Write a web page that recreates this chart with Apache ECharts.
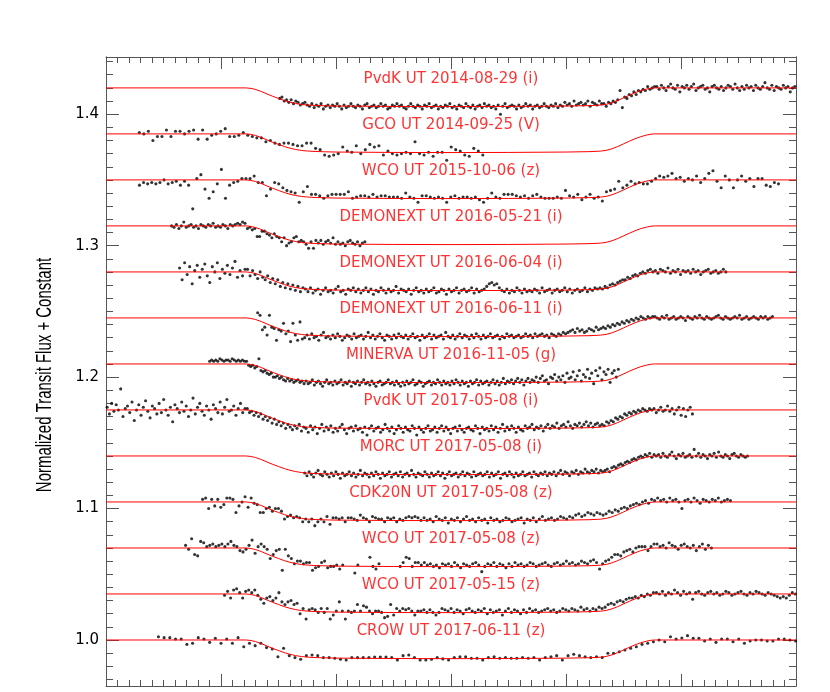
<!DOCTYPE html>
<html>
<head>
<meta charset="utf-8">
<script src="https://cdn.jsdelivr.net/npm/echarts@6.0.0/dist/echarts.min.js"></script>
<style>html,body{margin:0;padding:0;background:#fff}#chart{width:830px;height:692px}</style>
</head>
<body>
<div id="chart"></div>
<script>
// ---- data (flux in parts-per-thousand relative to 1, time in hours from mid-transit) ----
const curveLabels = [
  'PvdK UT 2014-08-29 (i)', 'GCO UT 2014-09-25 (V)', 'WCO UT 2015-10-06 (z)',
  'DEMONEXT UT 2016-05-21 (i)', 'DEMONEXT UT 2016-06-04 (i)', 'DEMONEXT UT 2016-06-11 (i)',
  'MINERVA UT 2016-11-05 (g)', 'PvdK UT 2017-05-08 (i)', 'MORC UT 2017-05-08 (i)',
  'CDK20N UT 2017-05-08 (z)', 'WCO UT 2017-05-08 (z)', 'WCO UT 2017-05-15 (z)',
  'CROW UT 2017-06-11 (z)'
];
const yAxisTitle = 'Normalized Transit Flux + Constant';
const offsets = [0.42, 0.385, 0.35, 0.315, 0.28, 0.245, 0.21, 0.175, 0.14, 0.105, 0.07, 0.035, 0];
const startHours = [-1.49, -2.71, -2.709, -2.43, -2.36, -1.681, -2.099, -2.99, -1.272, -2.16, -2.308, -1.969, -2.544];
const stepHours = [0.02, 0.0393, 0.03562, 0.02128, 0.02189, 0.02044, 0.01786, 0.01965, 0.01935, 0.02638, 0.02628, 0.02626, 0.04947];

const modelHours = [-3, -1.78, -1.74, -1.70, -1.65, -1.60, -1.55, -1.50, -1.45, -1.40, -1.35, -1.30, -1.25, -1.20, -1.10, -1.00, -0.50, 0, 0.50, 1.00, 1.20, 1.30, 1.35, 1.40, 1.45, 1.50, 1.55, 1.60, 1.65, 1.70, 1.74, 1.77, 3];
const modelFluxPpt = [0, 0, -0.4, -1.2, -2.7, -4.6, -6.4, -8.0, -9.6, -10.9, -11.9, -12.6, -13.0, -13.3, -13.6, -13.8, -14.1, -14.2, -14.1, -13.8, -13.5, -13.1, -12.5, -11.3, -9.6, -7.6, -5.6, -3.7, -2.1, -0.9, -0.2, 0, 0];

const yMajorTicks = [1.0, 1.1, 1.2, 1.3, 1.4];
const yMinorTicks = [0.97, 0.98, 0.99, 1.00, 1.01, 1.02, 1.03, 1.04, 1.05, 1.06, 1.07, 1.08, 1.09, 1.10, 1.11, 1.12, 1.13, 1.14, 1.15, 1.16, 1.17, 1.18, 1.19, 1.20, 1.21, 1.22, 1.23, 1.24, 1.25, 1.26, 1.27, 1.28, 1.29, 1.30, 1.31, 1.32, 1.33, 1.34, 1.35, 1.36, 1.37, 1.38, 1.39, 1.40, 1.41, 1.42, 1.43, 1.44];

const fluxPvdK20140829 = [
-8,-7,-10,-9,-11,-9,-12,-10,-11,-13,-12,-11,
-13,-14,-12,-15,-13,-14,-12,-16,-14,-13,
-15,-13,-14,-12,-14,-16,-13,-15,-14,-12,
-14,-15,-13,-14,-16,-13,-12,-15,-14,-13,
-15,-14,-12,-14,-13,-16,-15,-13,-14,-12,
-14,-13,-15,-16,-14,-12,-14,-15,-13,-14,
-16,-13,-14,-12,-15,-14,-13,-16,-14,-15,
-13,-14,-12,-15,-14,-16,-13,-14,-15,-12,
-14,-15,-13,-16,-14,-13,-15,-12,-14,-13,
-15,-14,-16,-13,-20,-14,-12,-15,-14,-13,
-14,-16,-13,-15,-14,-12,-14,-13,-16,-14,
-13,-15,-14,-12,-14,-15,-13,-14,-12,-15,
-13,-14,-11,-13,-12,-14,-10,-13,-12,-11,
-13,-12,-10,-14,-11,-12,-13,-10,-12,
-12,-14,-11,-12,-10,-11,-9,-2,-15,-7,-8,-5,-6,-3,-5,-2,-3,-1,-2,1,-1,0,1,
1,-1,2,0,-2,1,3,0,-1,2,
-3,1,0,2,-1,1,3,-2,0,1,
2,-1,0,-3,1,2,0,-1,1,-2,
0,2,1,-1,3,0,-2,1,-1,2,
0,1,-2,2,0,-1,1,4,0,-1,
2,-2,1,0,-1,2,0,1,-3,0,
1
];
const fluxGCO20140925 = [
1,0,2,-5,-2,-2,3,-2,2,2,0,2,3,-4,3,-4,-1,0,2,4,-2,-2,-1,1,-1,-2,
-3,-3,-6,-5,-7,-8,-7,-7,-8,-9,-9,-7,-7,-11,-12,
-16,-17,-16,-15,-10,-13,-14,-9,-15,-12,-8,-10,-9,-16,-13,-15,-16,-15,-14,-15,
-6,-15,-16,-14,-17,-14,-14,-20,-10,-12,-13,-16,-17,-11,-13,-16
];
const fluxWCO20151006 = [
-4,-2,-3,-2,-3,-2,0,-3,-2,-1,-4,-1,-4,-22,1,4,-7,-14,-9,-3,8,-14,-4,-2,-1,1,1,1,3,
-2,-2,-12,-7,-2,-3,-6,-8,-9,-10,-17,-9,-5,-11,-11,-12,-14,-12,-11,-11,
-11,-11,-9,-14,-13,-12,-12,-13,-11,-13,-12,-12,-13,-13,-13,-14,-10,-13,-14,-17,
-12,-12,-13,-14,-13,-14,-17,-13,-12,-14,-13,
-13,-14,-13,-15,-17,-14,-10,-13,-14,-11,-11,-11,-12,-13,-12,-14,-12,-11,-13,-14,
-14,-14,-13,-14,-8,-12,-13,-11,-15,-13,-11,-14,-13,-16,
-9,-8,-7,-1,-6,-4,-1,-3,-2,-3,-3,-1,1,3,2,3,5,1,2,-1,
1,0,3,-2,1,5,7,-1,-6,3,0,-6,0,3,-1,1,-5,1,1,-4,-5,-2,-3
];
const fluxDEMONEXT20160521 = [
0,-1,1,-2,0,3,-1,0,1,-1,0,-2,1,0,-1,1,0,2,-1,0,-1,1,0,-2,1,0,1,2,1,3,2,
-2,-1,-3,-2,-8,-8,-4,-4,-6,-7,-9,-6,-8,-9,-12,-9,-15,-13,-12,-9,-8,-12,-11,-12,-14,-17,-12,-17,-11,
-13,-11,-14,-12,-11,-13,-9,-14,-12,-14,-13,-15,-12,-11,-13,-14,-12,-15,-13,-12
];
const fluxDEMONEXT20160604 = [
3,-6,7,-2,4,-9,1,5,-4,2,6,-3,-8,4,0,7,-5,2,-1,5,-2,3,8,-4,1,-3,2,
2,-3,1,-2,-5,0,-4,-6,-3,-8,-5,-9,-6,-11,-8,-12,-9,-13,-10,-14,-11,-15,-12,
-13,-15,-12,-16,-14,-13,-17,-14,-12,-15,
-14,-16,-13,-11,-15,-14,-17,-13,-14,-12,
-15,-13,-16,-14,-12,-15,-13,-17,-14,-15,
-12,-14,-16,-13,-15,-14,-11,-16,-13,-14,
-15,-13,-17,-14,-12,-15,-14,-16,-13,-15,
-14,-12,-16,-15,-13,-14,-17,-13,-15,-14,
-12,-16,-14,-13,-15,-14,-12,-16,-13,-15,
-14,-13,-11,-9,-8,-10,-9,-12,-14,-15,
-13,-16,-14,-15,-12,-14,-16,-13,-15,-14,
-15,-13,-14,-16,-12,-15,-14,-13,-16,-14,
-13,-15,-14,-12,-15,-13,-16,-14,-13,-15,
-14,-12,-15,-13,-14,-12,-13,
-12,-13,-11,-12,-10,-9,-10,-8,-7,-6,-6,-4,-5,-3,-2,-3,-1,0,-1,1,
2,0,1,-1,2,1,0,3,-1,1,0,2,-2,1,0,1,-1,2,0,1,-2,0,1,2,-1,0,1,-1,0,2,0
];
const fluxDEMONEXT20160611 = [
4,2,-9,-7,-13,2,-7,-8,-17,-9,-10,-4,-12,-10,-18,-4,-13,-17,-3,-16,-15,
-13,-16,-12,-15,-14,-17,-13,-11,-15,-14,
-16,-13,-15,-12,-14,-17,-15,-13,-14,-16,
-12,-15,-14,-13,-16,-14,-11,-15,-13,-16,
-14,-12,-15,-17,-13,-14,-16,-13,-15,-12,
-14,-15,-13,-16,-14,-12,-15,-14,-17,-13,
-15,-14,-12,-16,-13,-15,-14,-13,-16,-11,
-14,-15,-13,-16,-14,-12,-15,-13,-14,-16,
-13,-15,-12,-14,-16,-13,-15,-14,-12,-15,
-14,-13,-16,-14,-15,-12,-14,-13,-15,-14,
-13,-15,-14,-12,-14,-13,-15,-12,-14,-13,
-12,-14,-13,-15,-12,-13,-14,-12,-13,-11,
-12,-11,-10,-9,-11,-8,-10,-9,-11,-10,
-8,-9,-10,-7,-9,-8,
-7,-8,-6,-7,-5,-6,-4,-5,-3,-4,-2,-3,-1,-2,0,-1,1,0,-1,1,0,1,
1,0,-1,1,0,2,-1,0,1,-1,0,1,0,-2,1,0,-1,1,0,2,0,-1,1,0,-1,0,1,2,0,-1,
1,0,-1,0,1,0,2,-1,0,1,-1,0,1,0,-1,1,0,1,-1,0,1
];
const fluxMINERVA20161105 = [
2,3,2,3,2,4,3,2,3,3,2,4,3,2,3,2,3,2,
2,-1,-2,-1,-3,-2,4,-5,-6,-5,-7,-8,-7,-10,-10,-9,-11,-10,-12,-13,-11,-13,-12,-14,-13,-12,-14,-13,-15,
-13,-15,-14,-12,-16,-14,-13,-15,-17,-14,
-12,-15,-14,-16,-13,-15,-14,-12,-16,-14,
-15,-13,-17,-14,-15,-13,-16,-14,-12,-15,
-14,-16,-13,-15,-17,-14,-13,-16,-15,-14,
-12,-15,-14,-16,-13,-15,-17,-14,-16,-13,
-15,-14,-12,-16,-15,-13,-14,-17,-15,-14,
-13,-16,-14,-15,-12,-14,-16,-13,-15,-14,
-16,-13,-15,-12,-14,-16,-13,-15,-14,-17,
-13,-15,-14,-12,-16,-13,-15,-14,-13,-16,
-14,-12,-15,-13,-16,-14,-11,-15,-13,-14,
-12,-15,-13,-11,-14,-12,-16,-13,-11,-14,
-12,-13,-10,-14,-11,-9,-13,-12,-15,-10,
-11,-8,-13,-10,-12,-9,-14,-7,-11,-10,
-6,-12,-9,-5,-13,-8,-10,-4,-11,-7,
-15,-5,-9,-3,-12,-6,-8,-4,-14,-7,
-5,-10,-4
];
const fluxPvdK20170508 = [
2,-3,5,-1,4,0,16,-5,1,3,-2,6,-8,0,4,-4,2,7,-1,-6,
3,1,-3,5,-2,8,0,-4,2,-9,4,1,-2,6,-1,3,-5,0,9,-3,
2,5,-1,-4,3,0,-7,4,1,-2,6,-3,2,8,-1,0,3,-4,1,5,
-2,1,
1,-2,-1,-4,-2,-5,-3,-7,-5,-8,-6,-10,-7,-11,-9,-12,-10,-14,-11,-13,-15,-12,-14,-11,-16,-13,
-14,-17,-12,-15,-13,-18,-14,-11,-16,-13,
-15,-12,-17,-14,-16,-13,-11,-15,-18,-14,
-13,-16,-12,-15,-14,-17,-13,-19,-14,-12,
-16,-14,-13,-17,-15,-11,-14,-16,-13,-18,
-15,-12,-14,-17,-13,-15,-16,-12,-14,-19,
-13,-15,-17,-14,-12,-16,-15,-13,-17,-14,
-12,-16,-13,-15,-18,-14,-13,-16,-12,-15,
-17,-14,-13,-15,-16,-12,-14,-18,-13,-15,
-14,-16,-12,-15,-13,-17,-14,-11,-16,-13,
-15,-12,-14,-17,-13,-15,-16,-12,-14,-13,
-11,-15,-13,-14,-12,-16,-13,-11,-14,-12,
-13,-10,-14,-12,-11,-13,-9,-12,-14,-11,
-12,-10,-13,-11,-9,-12,-10,-13,-11,-10,
-12,
-11,-12,-9,-10,-8,-9,-6,-7,-5,-6,-3,-4,-2,-3,-1,-2,0,-1,1,0,-1,1,0,
1,-2,0,2,-1,0,3,-1,1,-3,0,2,-4,1,-5,0,2,-3
];
const fluxMORC20170508 = [
-13,-15,-12,-14,-16,-13,-11,-14,-15,-12,
-14,-16,-13,-15,-12,-14,-17,-13,-15,-14,
-12,-15,-13,-16,-14,-11,-15,-13,-14,-16,
-13,-15,-12,-14,-17,-13,-15,-14,-12,-16,
-14,-13,-15,-12,-16,-14,-13,-15,-11,-14,
-16,-13,-14,-15,-12,-14,-16,-13,-15,-14,
-12,-15,-13,-17,-14,-12,-15,-14,-13,-16,
-14,-12,-15,-13,-14,-16,-12,-15,-14,-13,
-15,-14,-12,-16,-13,-15,-14,-12,-17,-14,
-13,-15,-12,-14,-16,-13,-15,-14,-12,-15,
-14,-13,-16,-12,-14,-15,-13,-14,-12,-15,
-13,-14,-12,-15,-13,-11,-14,-12,-13,-15,
-12,-13,-11,-14,-12,-13,-10,-12,-13,-11,
-12,-10,-13,-11,
-12,-11,-10,-12,-9,-8,-9,-7,-6,-7,-5,-4,-5,-3,-2,-3,-1,0,-1,1,0,2,-1,1,
0,1,-1,2,0,-1,1,3,0,-2,1,0,2,-1,0,1,-1,5,0,2,-1,1,0,-2,1,0,2,-1,3,0,-1,1,0,-2,1,2,0,-1,1,0,-1,0
];
const fluxCDK20N20170508 = [
2,3,-5,2,-3,2,-4,-2,3,3,2,-8,-3,0,4,
-4,3,-1,-2,-8,-8,-5,-4,-7,-5,-5,-7,-13,-11,-10,-12,-11,-12,-15,
-13,-15,-13,-18,-15,-13,-15,-11,-17,-12,-12,-13,-12,-15,-12,-12,-13,-14,-10,-12,
-13,-15,-11,-12,-13,-13,-15,-12,-13,-12,-15,-13,-14,-12,-11,-12,-11,-12,-14,
-12,-14,-13,-15,-11,-13,-14,-12,-16,-13,
-14,-12,-15,-13,-11,-14,-13,-15,-12,-14,
-13,-16,-12,-14,-13,-15,-14,-12,-13,-15,
-14,-13,-12,-16,-13,-14,-12,-15,-13,-11,
-14,-13,-12,-14,-13,-11,-12,-13,-11,-12,
-10,-9,-11,-10,-8,-9,-10,-8,-9,
-10,-9,-7,-8,-6,-7,-5,-4,-5,-3,-2,-1,-2,0,1,-1,2,1,
3,1,2,0,3,1,2,0,-5,1,2,0,3,1,-1,2,1,0,2,1,3,0,1,2,1
];
const fluxWCO20170508 = [
2,-1,7,-5,-6,5,4,1,2,3,1,2,3,1,3,5,2,1,-2,-3,-1,
2,6,-4,1,3,1,-1,-8,-5,-2,-1,-17,-1,-6,-8,-12,-10,-10,-12,
-11,-11,-17,-15,-14,-11,-10,-15,-14,-14,-13,-16,-13,null,null,null,-19,-13,null,null,
null,-7,-14,-16,-12,null,null,null,null,null,null,-14,-11,-7,-8,-14,-11,-11,-13,-11,
-13,-12,-14,-13,-15,-12,
-13,-12,-14,-11,-13,-15,-12,-13,-14,-12,
-11,-13,-18,-14,-12,-13,-11,-14,-12,-13,
-15,-12,-14,-11,-13,-12,-14,-13,-11,-12,
-14,-13,-12,-11,-13,-14,-12,-11,-13,-12,
-10,-12,-11,-13,-12,-10,-11,-12,-10,-9,
-11,-16,
-12,-10,-9,-7,-5,-5,-6,-3,-2,-1,-3,0,1,1,1,-2,1,3,
3,1,2,0,4,2,1,-1,2,3,1,0,2,-2,1,3,-1,2,0
];
const fluxWCO20170515 = [
-1,2,-3,3,4,1,-3,2,3,1,3,-1,-4,-7,-3,-2,-5,-3,1,-6,
-8,-6,-5,-8,-7,-15,-11,-19,-12,-11,-12,-14,-11,-14,-11,-19,-16,-13,-6,-13,
-19,-13,-14,-13,-8,-13,-9,-10,-13,-15,-13,-13,-14,-18,-17,-8,-16,-11,-13,-11,
-12,-11,-13,-16,-13,-13,-12,-14,-12,-14,-16,-14,-11,
-12,-13,-11,-14,-12,-13,-15,-12,-11,-13,
-14,-12,-13,-11,-15,-12,-14,-13,-12,-16,
-13,-11,-14,-12,-13,-15,-12,-14,-11,-13,
-12,-14,-13,-12,-11,-13,-12,-14,-13,-11,
-12,-13,-11,-12,-13,-10,-12,-11,-13,-11,
-12,-10,
-11,-10,-8,-7,-8,-6,-5,-6,-4,-3,-3,-2,-3,-1,-2,0,-1,1,
1,0,2,-1,1,0,3,1,-1,2,0,1,-4,1,2,0,-1,1,2,0,
1,-1,0,2,1,-1,0,1,2,0,-1,1,0,2,1,0,-1,1,0,-1,
-2,-3,-2,-3,-1,1,0
];
const fluxCROW20170611 = [
2.5,1.8,1.8,0.8,0.8,-3.3,-2.5,1.8,0.8,-1.8,
1.3,-2.5,0.8,-2.5,1.8,-5.1,-2.5,-4.3,-2.5,-5.8,
-6.8,-12.7,-6.3,-11.9,-13.4,-14.7,-11.9,-11.4,-11.9,-13.4,
-13.4,-13.9,-14.7,-15.2,-13.4,-13.4,-13.4,-13.4,-12.9,-12.9,
-12.9,-13.4,-15.2,-11.9,-11.4,-13.4,-15.2,-15.2,-14.7,-13.4,
-14.4,-15.2,-13.4,-12.7,-12.7,-13.9,-13.9,-15.2,-13.4,-12.7,
-13.9,-13.4,-13.9,-13.9,-13.4,-13.9,-13.4,-15.2,-13.4,-12.7,
-11.9,-15.2,-11.9,-10.9,-11.9,-12.7,-13.4,-12.7,-13.4,-10.1,
-10.1,-8.9,-7.6,-6.3,-5.1,-3.3,-2.5,-1.3,0,-1.3,
2.5,0.8,1.5,3.3,1.3,1.3,-0.8,0.8,-1.8,0.8,
0.8,-1.3,0.8,-2.5,-0.8,0,0,-0.8,-0.8,0.8,
0.8,0,-0.8
];

const curveFlux = [fluxPvdK20140829, fluxGCO20140925, fluxWCO20151006, fluxDEMONEXT20160521,
  fluxDEMONEXT20160604, fluxDEMONEXT20160611, fluxMINERVA20161105, fluxPvdK20170508,
  fluxMORC20170508, fluxCDK20N20170508, fluxWCO20170508, fluxWCO20170515, fluxCROW20170611];

// ---- chart ----
const RED = '#ff0000';
const AXIS = '#555555';
const series = [];
curveFlux.forEach(function (flux, i) {
  const pts = [];
  flux.forEach(function (v, k) {
    if (v !== null) pts.push([startHours[i] + k * stepHours[i], 1 + offsets[i] + v / 1000]);
  });
  series.push({
    type: 'scatter', name: curveLabels[i], xAxisIndex: 0, yAxisIndex: 0,
    symbol: 'circle', symbolSize: 3.1, itemStyle: { color: '#000' },
    silent: true, z: 2, data: pts
  });
  series.push({
    type: 'line', name: curveLabels[i] + ' model', xAxisIndex: 0, yAxisIndex: 0,
    showSymbol: false, symbol: 'none', silent: true, z: 3,
    lineStyle: { color: RED, width: 1 },
    data: modelHours.map(function (t, k) { return [t, 1 + offsets[i] + modelFluxPpt[k] / 1000]; })
  });
});
series.push({
  type: 'scatter', name: 'labels', xAxisIndex: 0, yAxisIndex: 0,
  symbolSize: 1, itemStyle: { color: 'rgba(0,0,0,0)' }, silent: true, z: 4,
  label: { show: true, position: 'inside', formatter: '{b}', color: RED,
    fontFamily: 'DejaVu Sans', fontSize: 15 },
  data: curveLabels.map(function (n, i) { return { name: n, value: [0, 1 + offsets[i] + 0.0068] }; })
});

function xAxisDef(pos) {
  return {
    type: 'value', position: pos, min: -3, max: 3, interval: 1,
    axisLine: { show: true, onZero: false, lineStyle: { color: AXIS, width: 1 } },
    axisTick: { show: true, inside: true, length: 12, lineStyle: { color: AXIS } },
    minorTick: { show: true, splitNumber: 10, length: 6, lineStyle: { color: AXIS } },
    axisLabel: { show: false }, splitLine: { show: false }, minorSplitLine: { show: false }
  };
}
function yAxisDef(pos, ticks, len, withLabels) {
  const ax = {
    type: 'value', position: pos, min: 0.965, max: 1.4435,
    axisLine: { show: true, onZero: false, lineStyle: { color: AXIS, width: 1 } },
    axisTick: { show: true, inside: true, length: len, customValues: ticks, lineStyle: { color: AXIS } },
    axisLabel: { show: false }, splitLine: { show: false }
  };
  if (withLabels) {
    ax.axisLabel = { show: true, customValues: yMajorTicks, margin: 7, color: '#000',
      fontFamily: 'DejaVu Sans', fontSize: 15,
      formatter: function (v) { return v.toFixed(1); } };
  }
  return ax;
}

const chart = echarts.init(document.getElementById('chart'), null, { renderer: 'canvas' });
chart.setOption({
  animation: false,
  backgroundColor: '#fff',
  grid: { left: 106, top: 57, width: 690, height: 629, containLabel: false, outerBoundsMode: 'none' },
  xAxis: [xAxisDef('bottom'), xAxisDef('top')],
  yAxis: [
    yAxisDef('left', yMajorTicks, 13, true),
    yAxisDef('left', yMinorTicks, 7, false),
    yAxisDef('right', yMajorTicks, 13, false),
    yAxisDef('right', yMinorTicks, 7, false)
  ],
  graphic: [{
    type: 'text', x: 45, y: 375, rotation: Math.PI / 2, scaleX: 0.68, scaleY: 1, silent: true,
    style: { text: yAxisTitle, fontFamily: 'Liberation Sans', fontSize: 22, fill: '#000',
      align: 'center', verticalAlign: 'middle', textAlign: 'center', textVerticalAlign: 'middle' }
  }],
  series: series
});
</script>
</body>
</html>
